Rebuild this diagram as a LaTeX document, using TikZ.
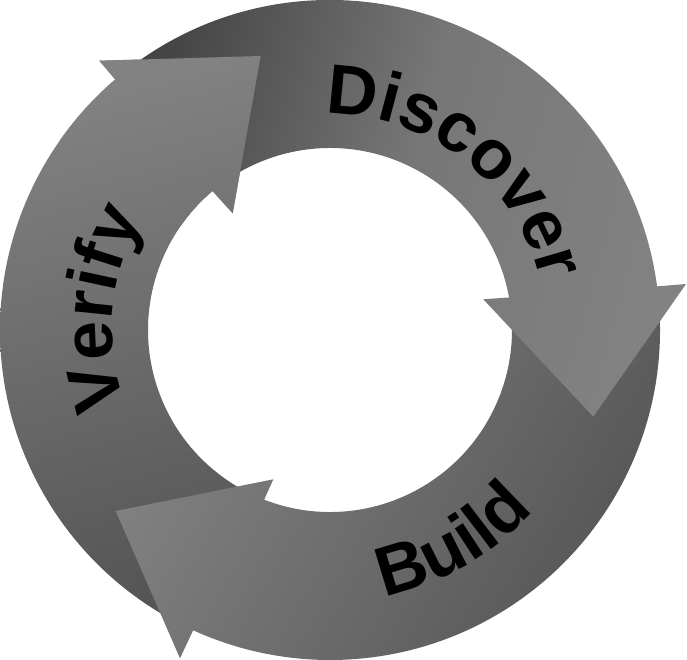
\documentclass[tikz,border=0pt]{standalone}
\usepackage{fontspec}
\setmainfont{Liberation Sans}
\usetikzlibrary{decorations.text}
\definecolor{headgray}{HTML}{828282}
\definecolor{midgray}{HTML}{777777}
\definecolor{darkgray}{HTML}{454545}
\definecolor{tailgray}{HTML}{555555}
\newcommand\cyclefont{\fontsize{70}{70}\selectfont\bfseries}
\tikzset{
  discshade/.style={shading=axis, top color=headgray, bottom color=darkgray, middle color=midgray, shading angle=-105},
  verishade/.style={shading=axis, top color=headgray, bottom color=tailgray, shading angle=15},
  buildshade/.style={shading=axis, top color=headgray, bottom color=tailgray, shading angle=60},
  cyclelabel/.style={decorate, decoration={text along path, text align=center, text color=black}},
}
\begin{document}
\begin{tikzpicture}[x=1pt,y=1pt]
\useasboundingbox (-330,-330) rectangle (357,330);
% arrowhead points
\coordinate (vwo) at (-230.7,269.3);
\coordinate (vtip) at (-69.3,274);
\coordinate (vwi) at (-97.3,116.7);
\coordinate (dwo) at (356,46);
\coordinate (dtip) at (263.3,-86.7);
\coordinate (dwi) at (153.3,30.7);
\coordinate (bwo) at (-150,-328.3);
\coordinate (btip) at (-214.3,-181);
\coordinate (bwi) at (-56.7,-149.3);
\def\verifypath{(244:330) arc[start angle=244, end angle=130.6, radius=330pt] -- (vwo) -- (vtip) -- (vwi) -- (130.2:182) arc[start angle=130.2, end angle=244, radius=182pt] -- cycle}
\def\discoverpath{(127:330) arc[start angle=127, end angle=7.6, radius=330pt] -- (dwo) -- (dtip) -- (dwi) -- (10.3:182) arc[start angle=10.3, end angle=127, radius=182pt] -- cycle}
\def\buildpath{(4:330) arc[start angle=4, end angle=-114.5, radius=330pt] -- (bwo) -- (btip) -- (bwi) -- (-111.2:182) arc[start angle=-111.2, end angle=4, radius=182pt] -- cycle}
% arrows
\shade[verishade] \verifypath;
\shade[buildshade] \buildpath;
\shade[discshade] \discoverpath;
\begin{scope}
  \clip (0,0) -- (95:420) -- (120:420) -- (145:420) -- cycle;
  \shade[verishade] \verifypath;
\end{scope}
% labels
\path[cyclelabel, decoration={text={|\cyclefont|Discover}}] (120:216) arc[start angle=120, end angle=-16, radius=216pt];
\path[cyclelabel, decoration={text={|\cyclefont|Verify}}] (230:218) arc[start angle=230, end angle=119, radius=218pt];
\path[cyclelabel, decoration={text={|\cyclefont|Build}}] (-100:272) arc[start angle=-100, end angle=-20, radius=272pt];
\end{tikzpicture}
\end{document}
